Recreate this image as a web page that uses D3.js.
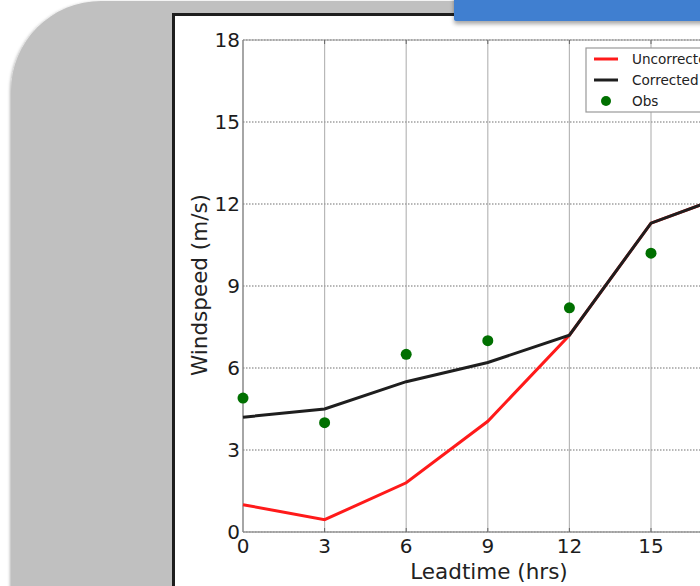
<!DOCTYPE html>
<html><head><meta charset="utf-8">
<script src="https://cdn.jsdelivr.net/npm/d3@7/dist/d3.min.js"></script>
<style>html,body{margin:0;padding:0;background:#fff;overflow:hidden}</style>
</head><body>
<script>
const leadtimes = [0, 3, 6, 9, 12, 15, 18];
const uncorrected = [1.0, 0.45, 1.8, 4.05, 7.2, 11.3, 12.4];
const corrected = [4.2, 4.5, 5.5, 6.2, 7.2, 11.3, 12.4];
const obsTimes = [0, 3, 6, 9, 12, 15];
const obs = [4.9, 4.0, 6.5, 7.0, 8.2, 10.2];
const xTicks = [0, 3, 6, 9, 12, 15];
const yTicks = [0, 3, 6, 9, 12, 15, 18];
const legendLabels = ["Uncorrected", "Corrected", "Obs"];

const W = 700, H = 586;
const svg = d3.select("body").append("svg").attr("width", W).attr("height", H);
const defs = svg.append("defs");
const f1 = defs.append("filter").attr("id","sh1").attr("x","-20%").attr("y","-20%").attr("width","140%").attr("height","140%");
f1.append("feDropShadow").attr("dx",-1).attr("dy",1).attr("stdDeviation",1.5).attr("flood-color","#000").attr("flood-opacity",0.3);
const f2 = defs.append("filter").attr("id","sh2").attr("x","-20%").attr("y","-50%").attr("width","140%").attr("height","250%");
f2.append("feDropShadow").attr("dx",0).attr("dy",3).attr("stdDeviation",2).attr("flood-color","#000").attr("flood-opacity",0.35);

// slide background shape
svg.append("rect").attr("x",11).attr("y",1).attr("width",800).attr("height",706)
  .attr("rx",90).attr("ry",90).attr("fill","#c0c0c0").attr("filter","url(#sh1)");
// white panel
svg.append("rect").attr("x",173.5).attr("y",14.5).attr("width",600).attr("height",700)
  .attr("fill","#fff").attr("stroke","#1e1e1e").attr("stroke-width",3);
// blue banner
svg.append("rect").attr("x",454).attr("y",-10).attr("width",300).attr("height",31)
  .attr("rx",2).attr("fill","#3f7fd0").attr("filter","url(#sh2)");

const x = d3.scaleLinear().domain([0, 24]).range([243, 243 + 24 * 27.2]);
const y = d3.scaleLinear().domain([0, 18]).range([532, 40]);
const g = svg.append("g");
const gridX = d3.range(3, 25, 3);

// vertical grid
g.selectAll(".vg").data(gridX).join("line")
  .attr("x1", d => x(d)).attr("x2", d => x(d)).attr("y1", y(18)).attr("y2", y(0))
  .attr("stroke", "#b8b8b8").attr("stroke-width", 1.2);
// horizontal grid dotted
g.selectAll(".hg").data(yTicks).join("line")
  .attr("x1", x(0)).attr("x2", 760).attr("y1", d => y(d)).attr("y2", d => y(d))
  .attr("stroke", "#a0a0a0").attr("stroke-width", 1.5).attr("stroke-dasharray", "1.5,1.5");
// spines
g.append("line").attr("x1", x(0)).attr("x2", 760).attr("y1", y(18)).attr("y2", y(18)).attr("stroke","#999").attr("stroke-width",1.2);
g.append("line").attr("x1", x(0)).attr("x2", 760).attr("y1", y(0)).attr("y2", y(0)).attr("stroke","#999").attr("stroke-width",1.5);
g.append("line").attr("x1", x(0)).attr("x2", x(0)).attr("y1", y(18)).attr("y2", y(0)).attr("stroke","#888").attr("stroke-width",1.5);
// inner ticks
g.selectAll(".xt").data(gridX).join("line")
  .attr("x1", d => x(d)).attr("x2", d => x(d)).attr("y1", y(0)).attr("y2", y(0) - 4).attr("stroke","#666");
g.selectAll(".xt2").data(gridX).join("line")
  .attr("x1", d => x(d)).attr("x2", d => x(d)).attr("y1", y(18)).attr("y2", y(18) + 4).attr("stroke","#666");

const font = "'DejaVu Sans', sans-serif";
g.selectAll(".xl").data(xTicks).join("text")
  .attr("x", d => x(d)).attr("y", 553).attr("text-anchor","middle")
  .attr("font-family", font).attr("font-size", 20).attr("fill","#1c1c1c").text(d => d);
g.selectAll(".yl").data(yTicks).join("text")
  .attr("x", 240).attr("y", d => y(d) + 7).attr("text-anchor","end")
  .attr("font-family", font).attr("font-size", 20).attr("fill","#1c1c1c").text(d => d);

g.append("text").attr("x", 489).attr("y", 579).attr("text-anchor","middle")
  .attr("font-family", font).attr("font-size", 21.5).attr("fill","#222").text("Leadtime (hrs)");
g.append("text").attr("transform","translate(207,285) rotate(-90)").attr("text-anchor","middle")
  .attr("font-family", font).attr("font-size", 21.5).attr("fill","#222").text("Windspeed (m/s)");

const line = d3.line().x((d, i) => x(leadtimes[i])).y(d => y(d));
g.append("path").datum(uncorrected).attr("d", line).attr("fill","none")
  .attr("stroke","#ff1a1a").attr("stroke-width",3);
g.append("path").datum(corrected).attr("d", line).attr("fill","none")
  .attr("stroke","#1e1e1e").attr("stroke-width",3);
g.selectAll(".obs").data(obs).join("circle")
  .attr("cx", (d, i) => x(obsTimes[i])).attr("cy", d => y(d)).attr("r", 5.5).attr("fill","#007000");

// legend
const lg = svg.append("g");
lg.append("rect").attr("x",586).attr("y",48).attr("width",200).attr("height",64)
  .attr("fill","#fff").attr("stroke","#999").attr("stroke-width",1.2);
const ly = [59, 80, 101];
lg.append("line").attr("x1",594).attr("x2",618).attr("y1",ly[0]).attr("y2",ly[0]).attr("stroke","#ff1a1a").attr("stroke-width",3);
lg.append("line").attr("x1",594).attr("x2",618).attr("y1",ly[1]).attr("y2",ly[1]).attr("stroke","#1e1e1e").attr("stroke-width",3);
lg.append("circle").attr("cx",606).attr("cy",ly[2]).attr("r",5).attr("fill","#007000");
lg.selectAll(".lt").data(legendLabels).join("text")
  .attr("x",632).attr("y",(d,i)=>ly[i]+4.5).attr("font-family",font).attr("font-size",13.6).attr("fill","#222").text(d=>d);
</script>
</body></html>
